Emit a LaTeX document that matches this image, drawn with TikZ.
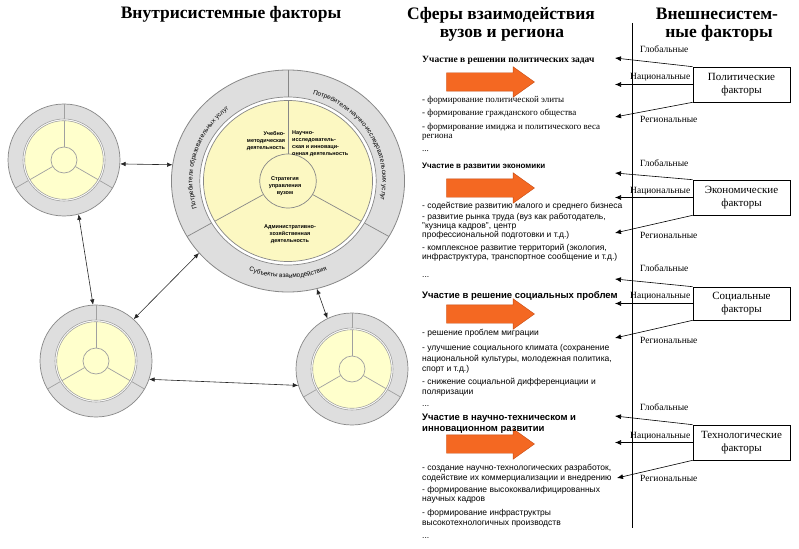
\documentclass[tikz,border=0pt]{standalone}
\usepackage{fontspec}
\setmainfont{Liberation Serif}
\setsansfont{Liberation Sans}
\usetikzlibrary{arrows.meta,shapes.geometric,shapes.arrows,decorations.text}
\definecolor{ringgray}{RGB}{222,222,222}
\definecolor{edgegray}{RGB}{135,135,135}
\definecolor{divgray}{RGB}{160,160,160}
\definecolor{pale}{RGB}{255,255,204}
\definecolor{paleb}{RGB}{252,248,194}
\definecolor{orangeA}{RGB}{244,104,34}
\definecolor{orangeB}{RGB}{196,74,18}
\tikzset{
 unitpic/.pic={
  \draw[edgegray, fill=ringgray, line width=0.7pt] (0,0) circle (56);
  \foreach \a in {90,210,330} \draw[divgray, line width=0.7pt] (\a:41) -- (\a:56);
  \draw[divgray, fill=white, line width=0.6pt] (0,0) circle (41);
  \draw[divgray, fill=pale, line width=0.6pt] (0,0) circle (39.3);
  \foreach \a in {90,210,330} \draw[divgray, line width=0.7pt] (\a:13) -- (\a:39.3);
  \draw[divgray, fill=pale, line width=0.7pt] (0,0) circle (13);
 },
 hub/.style={circle, minimum size=112pt, inner sep=0pt},
 link/.style={{Latex[length=5.5pt,width=4.5pt]}-{Latex[length=5.5pt,width=4.5pt]}, line width=0.6pt, black!85},
 factarrow/.style={-{Latex[length=6pt,width=5pt]}, line width=0.6pt},
 factbox/.style={draw, line width=0.6pt, minimum width=97pt, minimum height=35pt, inner sep=0pt, align=center, font=\fontsize{11}{13.5}\selectfont},
 fat/.style={single arrow, fill=orangeA, draw=orangeB, line width=0.4pt, minimum height=88pt, inner xsep=0pt, inner ysep=9pt, single arrow head extend=6pt, single arrow tip angle=71},
 ttl/.style={font=\bfseries\fontsize{17.5}{20}\selectfont, anchor=base, inner sep=0pt},
 lvl/.style={font=\fontsize{9.5}{11}\selectfont, anchor=base west, inner sep=0pt},
 hs/.style={font=\bfseries\fontsize{9.5}{11}\selectfont, anchor=base west, inner sep=0pt},
 is/.style={font=\fontsize{9}{11}\selectfont, anchor=base west, inner sep=0pt},
 hh/.style={font=\sffamily\bfseries\fontsize{9.5}{11}\selectfont, anchor=base west, inner sep=0pt},
 it/.style={font=\sffamily\fontsize{8.5}{10}\selectfont, anchor=base west, inner sep=0pt},
 ctext/.style={font=\sffamily\bfseries\fontsize{5.5}{7}\selectfont, inner sep=0pt, align=center},
}
\begin{document}
\begin{tikzpicture}[x=1pt,y=1pt]
\useasboundingbox (0,0) rectangle (799,-548);
% titles
\node[ttl] (T1) at (231,-19) {Внутрисистемные факторы};
\node[ttl] (T2a) at (501,-20) {Сферы взаимодействия};
\node[ttl] (T2b) at (502,-38) {вузов и региона};
\node[ttl] (T3a) at (717,-20) {Внешнесистем-};
\node[ttl] (T3b) at (719,-38) {ные факторы};
% big circle
\begin{scope}[shift={(288,-181)}, xscale=1.05]
  \draw[edgegray, fill=ringgray, line width=0.8pt] (0,0) circle (111);
  \foreach \a in {90,210,330} \draw[edgegray, line width=0.7pt] (\a:84) -- (\a:111);
  \draw[edgegray, fill=white, line width=0.7pt] (0,0) circle (84);
  \draw[edgegray, fill=paleb, line width=0.7pt] (0,0) circle (80.5);
  \foreach \a in {90,210,330} \draw[edgegray, line width=0.7pt] (\a:27) -- (\a:80.5);
  \draw[edgegray, fill=paleb, line width=0.7pt] (0,0) circle (27);
  \path[decorate, decoration={text along path, text align=center,
     text={|\sffamily\fontsize{6.4}{7}\selectfont|Потребители образовательных услуг}}]
     (206:91) arc[start angle=206, end angle=120, radius=91];
  \path[decorate, decoration={text along path, text align=center,
     text={|\sffamily\fontsize{6.4}{7}\selectfont|Потребители научно-исследовательских услуг}}]
     (86:90) arc[start angle=86, end angle=-24, radius=90];
  \path[decorate, decoration={text along path, text align=center,
     text={|\sffamily\fontsize{6.4}{7}\selectfont|Субъекты взаимодействия}}]
     (235:97) arc[start angle=235, end angle=305, radius=97];
\end{scope}
\node[ellipse, minimum width=233pt, minimum height=222pt, inner sep=0pt] (Big) at (288,-181) {};
\node[ctext, align=right] (Cm) at (266,-141) {Учебно-\\методическая\\деятельность};
\node[ctext, align=left, anchor=west] (Cn) at (292,-144) {Научно-\\исследователь-\\ская и инноваци-\\онная деятельность};
\node[ctext] (Cs) at (285,-186) {Стратегия\\управления\\вузом};
\node[ctext] (Ca) at (290,-234) {Административно-\\хозяйственная\\деятельность};
% small circles
\pic at (64,-160) {unitpic};
\node[hub] (A) at (64,-160) {};
\pic at (96,-361) {unitpic};
\node[hub] (B) at (96,-361) {};
\pic at (352,-369) {unitpic};
\node[hub] (C) at (352,-369) {};
% links
\draw[link] (A.-4) -- (Big.172);
\draw[link] (A.-75) -- (B.93);
\draw[link] (B.48) -- (Big.219);
\draw[link] (B.-19) -- (C.197);
\draw[link] (Big.-75) -- (C.116);
% vertical divider
\draw[line width=0.7pt] (632,-23) -- (632,-528);
% factor boxes
\node[factbox] (P1) at (741.5,-84.5) {Политические\\факторы};
\node[factbox] (P2) at (741.5,-197.5) {Экономические\\факторы};
\node[factbox, minimum height=33pt] (P3) at (741.5,-303.5) {Социальные\\факторы};
\node[factbox] (P4) at (741.5,-442.5) {Технологические\\факторы};
\coordinate (g1) at (615,-58);  \coordinate (n1) at (615,-84.5);  \coordinate (r1) at (615,-117);
\coordinate (g2) at (615,-173); \coordinate (n2) at (615,-197.5); \coordinate (r2) at (615,-233);
\coordinate (g3) at (615,-279); \coordinate (n3) at (615,-303.5); \coordinate (r3) at (615,-338);
\coordinate (g4) at (615,-416); \coordinate (n4) at (615,-442.5); \coordinate (r4) at (617,-478);
\foreach \i in {1,2,3,4} {
  \draw[factarrow] (P\i.north west) -- (g\i);
  \draw[factarrow] (P\i.west) -- (n\i);
  \draw[factarrow] (P\i.south west) -- (r\i);
}
\node[lvl] (L1g) at (640,-53) {Глобальные};
\node[lvl] (L1n) at (630,-80) {Национальные};
\node[lvl] (L1r) at (640,-123) {Региональные};
\node[lvl] (L2g) at (640,-167) {Глобальные};
\node[lvl] (L2n) at (630,-193) {Национальные};
\node[lvl] (L2r) at (640,-238) {Региональные};
\node[lvl] (L3g) at (640,-271) {Глобальные};
\node[lvl] (L3n) at (630,-298) {Национальные};
\node[lvl] (L3r) at (640,-343) {Региональные};
\node[lvl] (L4g) at (640,-410) {Глобальные};
\node[lvl] (L4n) at (630,-438) {Национальные};
\node[lvl] (L4r) at (640,-481) {Региональные};
% orange arrows
\node[fat] (O1) at (484,-82) {};
\node[fat] (O2) at (484,-188) {};
\node[fat] (O3) at (484,-314) {};
\node[fat] (O4) at (484,-444) {};
% section 1
\node[hs] (H1) at (422,-63) {Участие в решении политических задач};
\node[is] (a1) at (422,-103) {- формирование политической элиты};
\node[is] (a2) at (422,-116) {- формирование гражданского общества};
\node[is] (a3) at (422,-130) {- формирование имиджа и политического веса};
\node[is] (a4) at (422,-139) {региона};
\node[is] (a5) at (422,-151) {...};
% section 2
\node[hh, font=\sffamily\bfseries\fontsize{8}{10}\selectfont] (H2) at (422,-168) {Участие в развитии экономики};
\node[it] (b1) at (422,-208.5) {- содействие развитию малого и среднего бизнеса};
\node[it] (b2) at (422,-219.5) {- развитие рынка труда (вуз как работодатель,};
\node[it] (b3) at (422,-228.5) {"кузница кадров", центр};
\node[it] (b4) at (422,-237) {профессиональной подготовки и т.д.)};
\node[it] (b5) at (422,-250.5) {- комплексное развитие территорий (экология,};
\node[it] (b6) at (422,-259.5) {инфраструктура, транспортное сообщение и т.д.)};
\node[it] (b7) at (422,-277) {...};
% section 3
\node[hh] (H3) at (422,-298) {Участие в решение социальных проблем};
\node[it] (c1) at (422,-335.5) {- решение проблем миграции};
\node[it] (c2) at (422,-350.5) {- улучшение социального климата (сохранение};
\node[it] (c3) at (422,-361.5) {национальной культуры, молодежная политика,};
\node[it] (c4) at (422,-371.5) {спорт и т.д.)};
\node[it] (c5) at (422,-384.5) {- снижение социальной дифференциации и};
\node[it] (c6) at (422,-394.5) {поляризации};
\node[it] (c7) at (422,-406) {...};
% section 4
\node[hh] (H4a) at (422,-420) {Участие в научно-техническом и};
\node[hh] (H4b) at (422,-431) {инновационном развитии};
\node[it] (d1) at (422,-470.5) {- создание научно-технологических разработок,};
\node[it] (d2) at (422,-480.5) {содействие их коммерциализации и внедрению};
\node[it] (d3) at (422,-492.5) {- формирование высококвалифицированных};
\node[it] (d4) at (422,-501.5) {научных кадров};
\node[it] (d5) at (422,-515.5) {- формирование инфраструктры};
\node[it] (d6) at (422,-525.5) {высокотехнологичных производств};
\node[it] (d7) at (422,-538) {...};
\end{tikzpicture}
\end{document}
